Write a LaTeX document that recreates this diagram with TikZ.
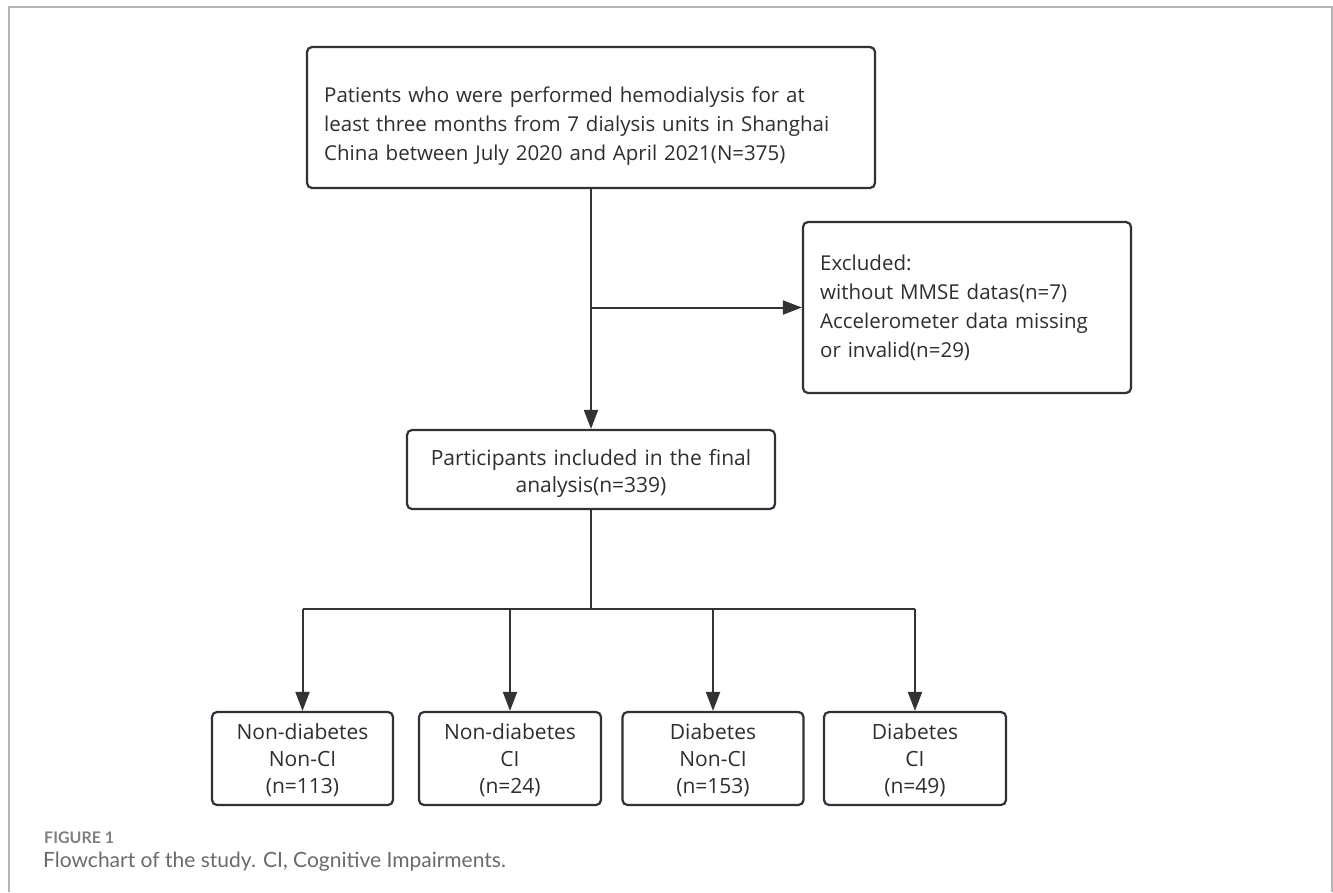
\documentclass[tikz,border=0pt]{standalone}
\usepackage{fontspec}
\setmainfont{Open Sans}
\newfontfamily\capfont{Lato}
\usetikzlibrary{arrows.meta}
\definecolor{ink}{HTML}{2E2E2E}
\definecolor{boxline}{HTML}{2E3237}
\definecolor{lineclr}{HTML}{333333}
\definecolor{framegray}{HTML}{B4B4B4}
\definecolor{capgray}{HTML}{7F7F7F}
\definecolor{capgray2}{HTML}{6A6A6A}
\begin{document}
\begin{tikzpicture}[x=1pt,y=-1pt,
  box/.style={draw=boxline, line width=2.2pt, rounded corners=5pt, inner sep=0pt, fill=white},
  txt/.style={text=ink, inner sep=0pt, font=\fontsize{20.5}{29}\selectfont},
  smalltxt/.style={txt, font=\fontsize{21}{27}\selectfont},
  conn/.style={draw=lineclr, line width=2pt},
  arr/.style={conn, -{Triangle[length=19pt,width=14pt]}}
]
\useasboundingbox (0,0) rectangle (1333,892);
\draw[framegray, line width=1.5pt] (9,892) -- (9,7) -- (1332,7) -- (1332,892);

% boxes
\node[box, minimum width=568pt, minimum height=141pt] (top) at (591,117.5) {};
\node[box, minimum width=328pt, minimum height=171pt] (excl) at (967,307.5) {};
\node[box, minimum width=368pt, minimum height=79pt] (part) at (591,469.5) {};
\node[box, minimum width=181pt, minimum height=93pt] (b1) at (302.5,758.5) {};
\node[box, minimum width=182pt, minimum height=93pt] (b2) at (510,758.5) {};
\node[box, minimum width=181pt, minimum height=93pt] (b3) at (713,758.5) {};
\node[box, minimum width=182pt, minimum height=93pt] (b4) at (915,758.5) {};

% texts
\node[txt, anchor=base west, text width=545pt, align=left] (toptxt) at (324,102)
 {Patients who were performed hemodialysis for at\\least three months from 7 dialysis units in Shanghai\\China between July 2020 and April 2021(N=375)};
\node[txt, anchor=base west, text width=305pt, align=left] (excltxt) at (820,270)
 {Excluded:\\without MMSE datas(n=7)\\Accelerometer data missing\\or invalid(n=29)};
\node[smalltxt, anchor=base, text width=360pt, align=center] (parttxt) at (591,465)
 {Participants included in the final\\analysis(n=339)};
\node[smalltxt, anchor=base, text width=178pt, align=center] (b1txt) at (302.5,739)
 {Non-diabetes\\Non-CI\\(n=113)};
\node[smalltxt, anchor=base, text width=178pt, align=center] (b2txt) at (510,739)
 {Non-diabetes\\CI\\(n=24)};
\node[smalltxt, anchor=base, text width=178pt, align=center] (b3txt) at (713,739)
 {Diabetes\\Non-CI\\(n=153)};
\node[smalltxt, anchor=base, text width=178pt, align=center] (b4txt) at (915,739)
 {Diabetes\\CI\\(n=49)};

% connectors
\draw[arr] (top.south) -- (part.north);
\coordinate (j1) at (top.south |- excl.west);
\draw[arr] (j1) -- (excl.west);
\coordinate (j2) at (591,609);
\draw[conn] (part.south) -- (j2);
\draw[conn] (b1.north |- j2) -- (b4.north |- j2);
\draw[arr] (b1.north |- j2) -- (b1.north);
\draw[arr] (b2.north |- j2) -- (b2.north);
\draw[arr] (b3.north |- j2) -- (b3.north);
\draw[arr] (b4.north |- j2) -- (b4.north);

% caption
\node[anchor=base west, inner sep=0pt, text=capgray, font=\capfont\bfseries\fontsize{16}{18}\selectfont] (figlbl) at (44,843) {FIGURE 1};
\node[anchor=base west, inner sep=0pt, text=capgray2, font=\capfont\fontsize{21}{25}\selectfont] (figcap) at (43,867) {Flowchart of the study. CI, Cognitive Impairments.};
\end{tikzpicture}
\end{document}
